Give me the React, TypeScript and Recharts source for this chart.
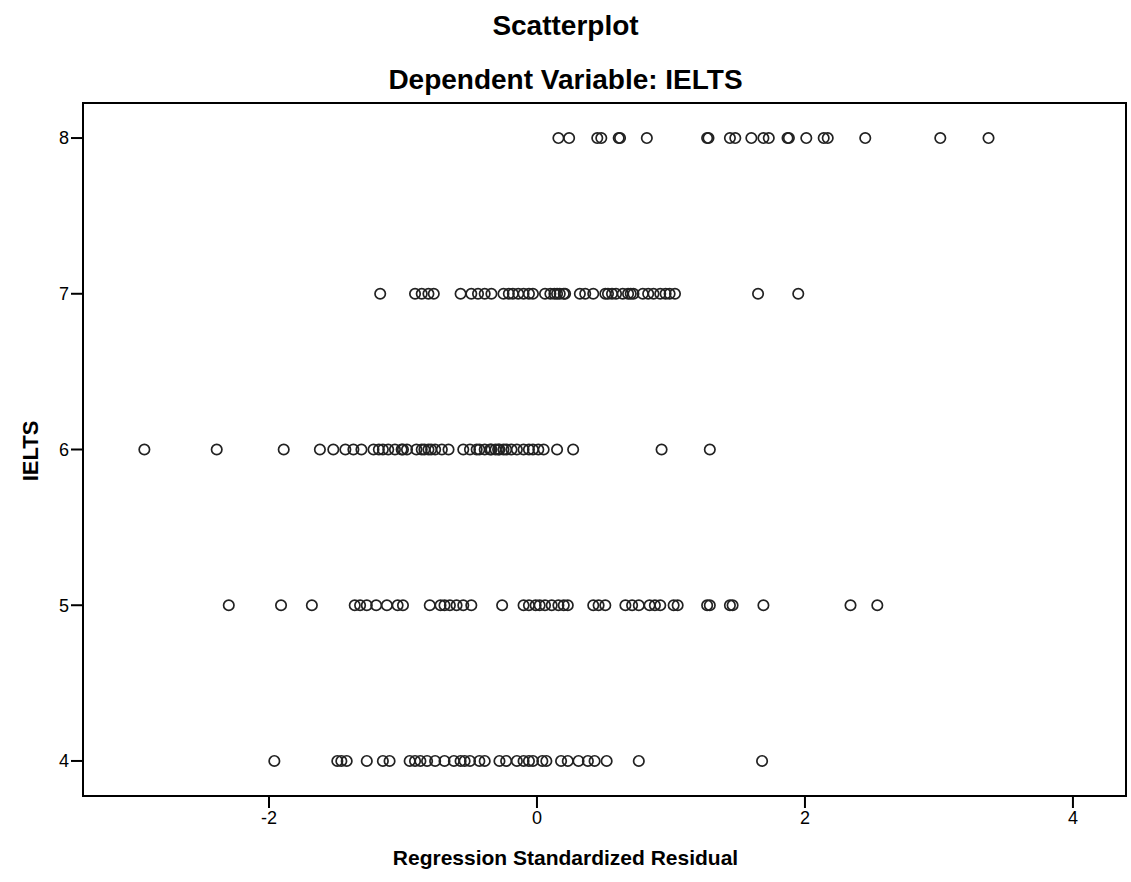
import React from 'react';
import {
  ScatterChart,
  Scatter,
  XAxis,
  YAxis,
  ReferenceArea,
} from 'recharts';

// Regression standardized residuals, one list per IELTS band
const band8 = [
  0.16, 0.24, 0.45, 0.48, 0.61, 0.62, 0.82, 1.27, 1.28, 1.44, 1.48, 1.6, 1.69,
  1.73, 1.87, 1.88, 2.01, 2.14, 2.17, 2.45, 3.01, 3.37,
];
const band7 = [
  -1.17, -0.91, -0.86, -0.81, -0.77, -0.57, -0.49, -0.44, -0.39, -0.34, -0.25,
  -0.21, -0.18, -0.14, -0.1, -0.06, -0.03, 0.06, 0.1, 0.13, 0.15, 0.17, 0.2,
  0.21, 0.32, 0.36, 0.42, 0.51, 0.53, 0.56, 0.59, 0.64, 0.68, 0.7, 0.72, 0.79,
  0.83, 0.87, 0.92, 0.96, 0.99, 1.03, 1.65, 1.95,
];
const band6 = [
  -2.93, -2.39, -1.89, -1.62, -1.52, -1.43, -1.37, -1.31, -1.22, -1.18, -1.15,
  -1.11, -1.06, -1.01, -1.0, -0.97, -0.9, -0.86, -0.84, -0.81, -0.79, -0.76,
  -0.71, -0.66, -0.55, -0.5, -0.45, -0.43, -0.39, -0.35, -0.34, -0.31, -0.29,
  -0.28, -0.25, -0.23, -0.19, -0.15, -0.1, -0.06, -0.03, 0.01, 0.05, 0.15,
  0.27, 0.93, 1.29,
];
const band5 = [
  -2.3, -1.91, -1.68, -1.36, -1.32, -1.27, -1.2, -1.12, -1.04, -1.0, -0.8,
  -0.72, -0.69, -0.65, -0.6, -0.55, -0.49, -0.26, -0.1, -0.06, -0.01, 0.02,
  0.06, 0.11, 0.16, 0.2, 0.23, 0.42, 0.46, 0.51, 0.66, 0.71, 0.76, 0.84, 0.88,
  0.92, 1.02, 1.05, 1.27, 1.29, 1.44, 1.46, 1.69, 2.34, 2.54,
];
const band4 = [
  -1.96, -1.49, -1.46, -1.42, -1.27, -1.15, -1.1, -0.95, -0.91, -0.87, -0.82,
  -0.76, -0.69, -0.62, -0.57, -0.54, -0.5, -0.43, -0.39, -0.28, -0.23, -0.15,
  -0.1, -0.06, -0.03, 0.04, 0.07, 0.18, 0.23, 0.31, 0.38, 0.43, 0.52, 0.76,
  1.68,
];

const xTicks = [-2, 0, 2, 4];
const yTicks = [4, 5, 6, 7, 8];
const X_MIN = -3.388;
const X_MAX = 4.396;
const Y_MIN = 3.775;
const Y_MAX = 8.225;

const bands: [number, number[]][] = [
  [8, band8],
  [7, band7],
  [6, band6],
  [5, band5],
  [4, band4],
];
const points = bands.flatMap(([ielts, res]) => res.map((r) => ({ x: r, y: ielts })));

const FONT = '"Liberation Sans", Arial, sans-serif';

const OpenCircle = (props: any) => {
  const { cx, cy } = props;
  return <circle cx={cx} cy={cy} r={5.2} fill="none" stroke="#222" strokeWidth={1.7} />;
};

const titleStyle: React.CSSProperties = {
  position: 'absolute',
  left: 0,
  width: 1131,
  textAlign: 'center',
  fontFamily: FONT,
  fontWeight: 'bold',
  color: '#000',
  lineHeight: 1,
};

export default function App() {
  return (
    <div style={{ position: 'absolute', left: 0, top: 0, width: 1131, height: 882, background: '#fff' }}>
      <ScatterChart width={1131} height={882} margin={{ top: 103, right: 5, bottom: 0, left: 0 }}>
        <XAxis
          type="number"
          dataKey="x"
          domain={[X_MIN, X_MAX]}
          ticks={xTicks}
          allowDataOverflow
          height={86}
          tickSize={12}
          tickMargin={3}
          axisLine={{ stroke: '#000', strokeWidth: 2 }}
          tickLine={{ stroke: '#000', strokeWidth: 2 }}
          tick={{ fill: '#000', fontSize: 18, fontFamily: FONT }}
        />
        <YAxis
          type="number"
          dataKey="y"
          domain={[Y_MIN, Y_MAX]}
          ticks={yTicks}
          allowDataOverflow
          width={83}
          tickSize={12}
          tickMargin={2}
          axisLine={{ stroke: '#000', strokeWidth: 2 }}
          tickLine={{ stroke: '#000', strokeWidth: 2 }}
          tick={{ fill: '#000', fontSize: 18, fontFamily: FONT }}
        />
        <ReferenceArea
          x1={X_MIN}
          x2={X_MAX}
          y1={Y_MIN}
          y2={Y_MAX}
          fill="none"
          fillOpacity={0}
          stroke="#000"
          strokeWidth={2}
        />
        <Scatter data={points} shape={OpenCircle} isAnimationActive={false} />
      </ScatterChart>
      <div style={{ ...titleStyle, top: 12, fontSize: 28 }}>Scatterplot</div>
      <div style={{ ...titleStyle, top: 66, fontSize: 28 }}>Dependent Variable: IELTS</div>
      <div style={{ ...titleStyle, top: 847, fontSize: 21 }}>Regression Standardized Residual</div>
      <div
        style={{
          position: 'absolute',
          left: 31,
          top: 451,
          transform: 'translate(-50%, -50%) rotate(-90deg)',
          fontFamily: FONT,
          fontWeight: 'bold',
          fontSize: 22,
          lineHeight: 1,
          whiteSpace: 'nowrap',
        }}
      >
        IELTS
      </div>
    </div>
  );
}
